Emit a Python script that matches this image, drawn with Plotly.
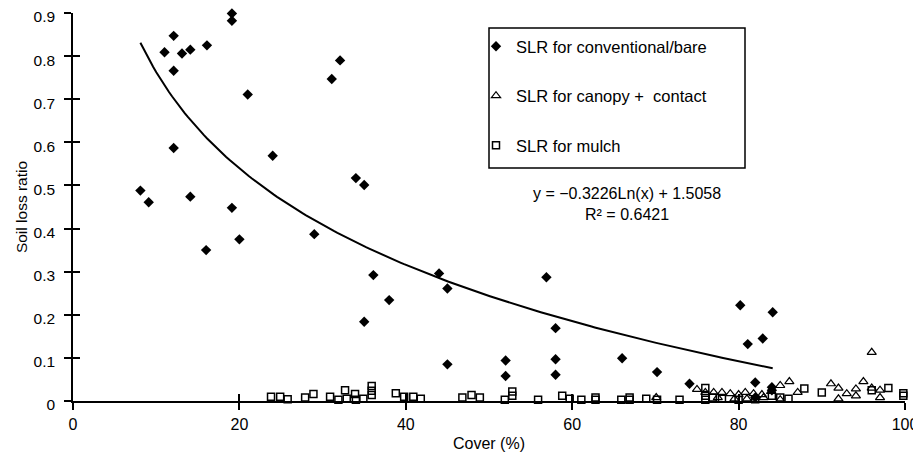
import numpy as np
import plotly.graph_objects as go

# ---- data ----
conv_x = [8.1, 9.1, 11.0, 12.1, 12.1, 12.1, 13.1, 14.1, 14.1, 16.0, 16.1, 19.1, 19.1, 19.1, 20.0,
          21.0, 24.0, 29.0, 31.1, 32.1, 34.0, 35.0, 35.0, 36.1, 38.0, 44.0, 45.0, 45.0, 52.0, 52.0,
          56.9, 58.0, 58.0, 58.0, 66.0, 70.2, 74.1, 80.2, 81.1, 82.0, 82.9, 84.1, 84.0, 84.0, 82.0]
conv_y = [0.488, 0.461, 0.809, 0.847, 0.766, 0.587, 0.806, 0.815, 0.474, 0.350, 0.825, 0.899, 0.882, 0.448, 0.375,
          0.711, 0.569, 0.387, 0.747, 0.790, 0.517, 0.501, 0.184, 0.292, 0.234, 0.296, 0.261, 0.085, 0.094, 0.058,
          0.287, 0.169, 0.097, 0.061, 0.099, 0.067, 0.040, 0.222, 0.132, 0.043, 0.145, 0.206, 0.032, 0.025, 0.008]

canopy_x = [70.1, 75.0, 76.0, 77.0, 78.0, 79.0, 80.0, 80.8, 81.8, 82.8, 83.9, 85.0, 85.0, 86.1, 87.1,
            91.1, 92.0, 92.0, 93.0, 94.1, 94.1, 95.0, 96.0, 96.0, 97.0, 97.0, 77.5, 79.5, 81.0, 83.0]
canopy_y = [0.008, 0.027, 0.020, 0.020, 0.020, 0.017, 0.015, 0.020, 0.017, 0.015, 0.022, 0.036, 0.003, 0.045, 0.020,
            0.040, 0.030, 0.005, 0.017, 0.028, 0.012, 0.045, 0.113, 0.030, 0.025, 0.008, 0.008, 0.005, 0.005, 0.008]

mulch_x = [23.8, 24.9, 25.8, 27.9, 28.9, 30.9, 31.9, 32.7, 32.9, 33.9, 34.0, 34.9, 35.9, 35.9, 35.9,
           38.8, 39.8, 40.9, 41.8, 46.8, 47.9, 48.9, 51.9, 52.8, 52.8, 55.9, 58.8, 59.7, 61.1, 62.8,
           62.8, 65.9, 66.9, 66.9, 68.9, 70.2, 72.9, 76.0, 76.0, 76.0, 76.9, 78.0, 80.0, 82.0, 84.0,
           85.0, 86.0, 87.9, 90.0, 96.0, 98.0, 99.8, 99.8]
mulch_y = [0.010, 0.010, 0.004, 0.008, 0.016, 0.010, 0.003, 0.025, 0.005, 0.016, 0.003, 0.005, 0.035, 0.024, 0.014,
           0.018, 0.010, 0.010, 0.005, 0.008, 0.014, 0.008, 0.003, 0.022, 0.012, 0.003, 0.012, 0.005, 0.003, 0.008,
           0.003, 0.003, 0.008, 0.003, 0.005, 0.003, 0.003, 0.030, 0.012, 0.003, 0.008, 0.005, 0.003, 0.004, 0.012,
           0.008, 0.005, 0.029, 0.020, 0.025, 0.030, 0.018, 0.012]

# fitted trend line shown on the chart: y = a*ln(x) + b
fit_a = -0.3226
fit_b = 1.5058
fit_x_min = 8.1
fit_x_max = 84.1

x_ticks = [0, 20, 40, 60, 80, 100]
y_ticks = [0, 0.1, 0.2, 0.3, 0.4, 0.5, 0.6, 0.7, 0.8, 0.9]
y_tick_text = ["0", "0.1", "0.2", "0.3", "0.4", "0.5", "0.6", "0.7", "0.8", "0.9"]

FONT = "Arial, Liberation Sans, Helvetica, sans-serif"

fit_x = np.linspace(fit_x_min, fit_x_max, 200)
fit_y = fit_a * np.log(fit_x) + fit_b

fig = go.Figure()

fig.add_trace(go.Scatter(
    x=fit_x, y=fit_y, mode="lines", line=dict(color="black", width=2),
    showlegend=False, hoverinfo="skip", cliponaxis=False))

fig.add_trace(go.Scatter(
    x=conv_x, y=conv_y, mode="markers", name="SLR for conventional/bare",
    marker=dict(symbol="diamond", size=8, color="black"), legendgroup="a", cliponaxis=False))
fig.add_trace(go.Scatter(
    x=canopy_x, y=canopy_y, mode="markers", name="SLR for canopy +  contact",
    marker=dict(symbol="triangle-up-open", size=8, color="black", line=dict(width=1.2)),
    legendgroup="b", cliponaxis=False))
fig.add_trace(go.Scatter(
    x=mulch_x, y=mulch_y, mode="markers", name="SLR for mulch",
    marker=dict(symbol="square-open", size=7, color="black", line=dict(width=1.5)),
    legendgroup="c", cliponaxis=False))

# dummy trace to carry the overlay axes (inner half of crossing ticks)
fig.add_trace(go.Scatter(x=[None], y=[None], xaxis="x2", yaxis="y2",
                         showlegend=False, hoverinfo="skip"))

axis_common = dict(showgrid=False, zeroline=False, showline=True, linecolor="black",
                   linewidth=1.5, tickcolor="black", tickwidth=1.5, automargin=False)

# page body has an 8px margin: figure is 913x445 placed at (8, 8)
fig.update_layout(
    width=913, height=445,
    margin=dict(l=65, r=16, t=5, b=52),
    paper_bgcolor="white", plot_bgcolor="white",
    font=dict(family=FONT, size=16, color="black"),
    xaxis=dict(range=[0, 100], tickvals=x_ticks, ticks="outside", ticklen=7,
               tickfont=dict(size=16), ticklabelstandoff=1, ticklabeloverflow="allow",
               title=dict(text="Cover (%)", font=dict(size=16), standoff=6),
               **axis_common),
    yaxis=dict(range=[0, 0.9], tickvals=y_ticks, ticktext=y_tick_text, ticks="outside",
               ticklen=7, tickfont=dict(size=15.5), ticklabelstandoff=6, ticklabeloverflow="allow",
               ticklabelshift=4,
               title=dict(text="Soil loss ratio", font=dict(size=15.5), standoff=2),
               **axis_common),
    xaxis2=dict(range=[0, 100], overlaying="x", tickvals=x_ticks, ticks="inside", ticklen=7,
                showticklabels=False, **axis_common),
    yaxis2=dict(range=[0, 0.9], overlaying="y", tickvals=y_ticks, ticks="inside", ticklen=7,
                showticklabels=False, **axis_common),
    legend=dict(x=(476 - 73) / 832, y=(401 - 29) / 388, xanchor="left", yanchor="top",
                bgcolor="rgba(0,0,0,0)", borderwidth=0, tracegroupgap=25,
                font=dict(size=16.5, family=FONT)),
    showlegend=True,
)

# legend frame
fig.add_shape(type="rect", xref="paper", yref="paper",
              x0=(489 - 73) / 832, x1=(745 - 73) / 832,
              y0=(401 - 168) / 388, y1=(401 - 28) / 388,
              line=dict(color="black", width=1.5), fillcolor="rgba(0,0,0,0)")

fig.add_annotation(xref="paper", yref="paper", x=(627 - 73) / 832, y=(401 - 204) / 388,
                   text=f"y = \u22120.3226Ln(x) + 1.5058<br>R\u00b2 = 0.6421",
                   showarrow=False, align="center", font=dict(size=16, family=FONT),
                   xanchor="center", yanchor="middle")

fig.write_html("out.html")
